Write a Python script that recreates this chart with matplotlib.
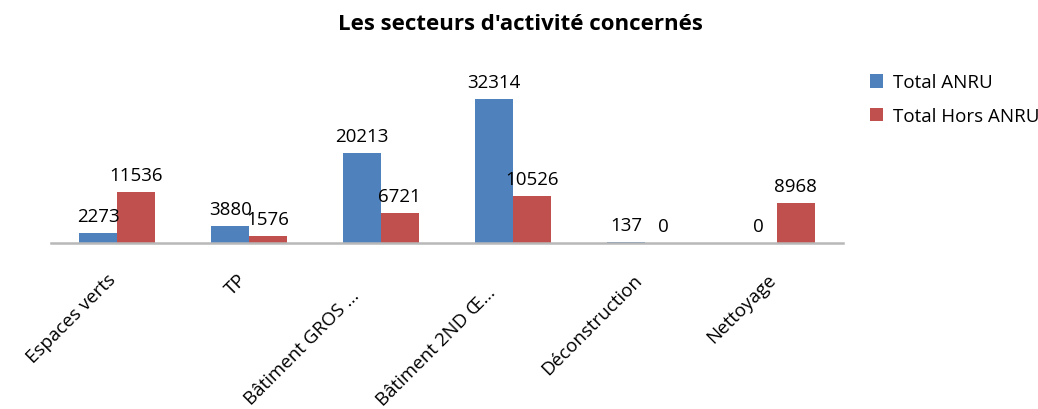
import matplotlib
matplotlib.use("Agg")
import matplotlib.pyplot as plt
from matplotlib.patches import Patch
import numpy as np

plt.rcParams['font.family'] = ['Open Sans', 'DejaVu Sans']

categories = ["Espaces verts", "TP", "Bâtiment GROS ...", "Bâtiment 2ND Œ...", "Déconstruction", "Nettoyage"]
total_anru = [2273, 3880, 20213, 32314, 137, 0]
total_hors_anru = [11536, 1576, 6721, 10526, 0, 8968]
series_names = ["Total ANRU", "Total Hors ANRU"]
title = "Les secteurs d'activité concernés"

# label offsets (pixels) for the rotated category labels: (dx, dy)
label_offsets = [(-10, -27), (-12, -27), (-31, -43), (-27, -40), (-12, -27), (-10, -27)]

W, H = 1038, 410
fig = plt.figure(figsize=(W / 100, H / 100), dpi=100)
ax = fig.add_axes([51 / W, (H - 244) / H, 792 / W, 156 / H])

blue = "#4F81BD"
red = "#C0504D"
x = np.arange(len(categories))
bw = 1 / 3.5
b1 = ax.bar(x - bw / 2, total_anru, bw, color=blue, label=series_names[0])
b2 = ax.bar(x + bw / 2, total_hors_anru, bw, color=red, label=series_names[1])

for bars, vals in ((b1, total_anru), (b2, total_hors_anru)):
    for rect, v in zip(bars, vals):
        ax.annotate(f"{v}", xy=(rect.get_x() + rect.get_width() / 2, v),
                    xytext=(0, 8), textcoords="offset pixels",
                    ha="center", va="bottom", fontsize=13.5, color="black")

ax.set_xlim(-0.5, len(categories) - 0.5)
ax.set_ylim(0, 35000)
ax.set_yticks([])
ax.set_xticks([])
for s in ("top", "right", "left"):
    ax.spines[s].set_visible(False)
ax.spines["bottom"].set_color("#B8B8B8")
ax.spines["bottom"].set_linewidth(1.8)

for i, (lab, (dx, dy)) in enumerate(zip(categories, label_offsets)):
    ax.annotate(lab, xy=(i, 0), xycoords=("data", "data"),
                xytext=(dx, dy), textcoords="offset pixels",
                rotation=45, rotation_mode="anchor", ha="right", va="top",
                fontsize=13.5, color="black", annotation_clip=False)

fig.text(520 / W, 1 - 25 / H, title, ha="center", va="center",
         fontsize=16, fontweight="bold")

handles = [Patch(facecolor=blue), Patch(facecolor=red)]
fig.legend(handles, series_names, loc="upper left",
           bbox_to_anchor=(862 / W, 1 - 67 / H), frameon=False,
           fontsize=13.5, handlelength=0.7, handleheight=0.7,
           handletextpad=0.55, labelspacing=0.85, borderaxespad=0)

fig.savefig("out.png", dpi=100)
